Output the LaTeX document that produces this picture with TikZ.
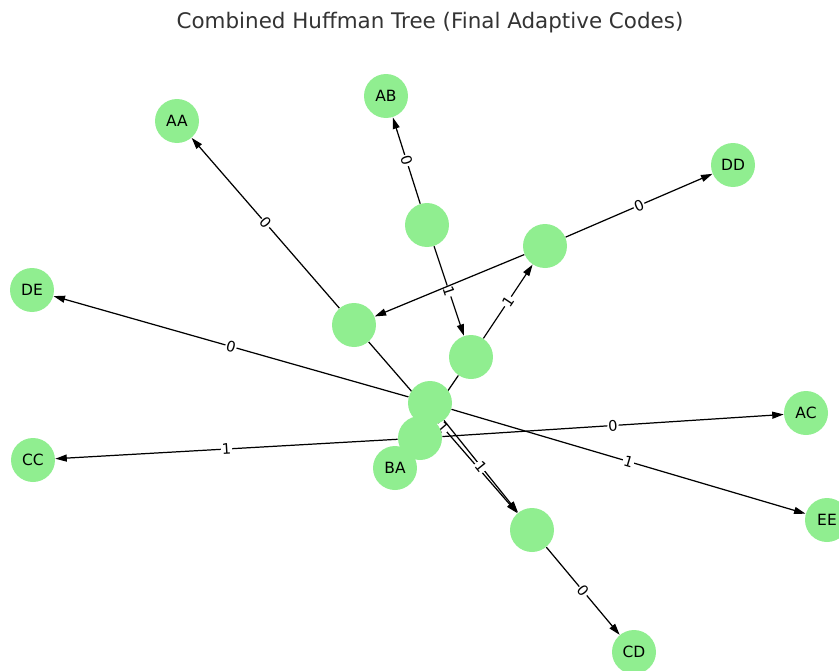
\documentclass[tikz,border=0pt]{standalone}
\usepackage{fontspec}
\setmainfont{DejaVu Sans}
\usetikzlibrary{arrows.meta,backgrounds}
\definecolor{leafgreen}{HTML}{90EE90}
\definecolor{titlegray}{HTML}{333333}
\tikzset{
  hnode/.style={circle,fill=leafgreen,minimum size=0.88cm,inner sep=0pt,font=\fontsize{8.8}{10}\selectfont},
  hedge/.style={-{Triangle[length=2.3mm,width=1.4mm]},line width=0.7pt},
  bit/.style={midway,sloped,fill=white,inner sep=0.6pt,font=\fontsize{8.3}{9}\selectfont}
}

\begin{document}
\begin{tikzpicture}[x=0.02cm,y=-0.02cm]
        \useasboundingbox (0,0) rectangle (839,670);
        \node[text=titlegray,font=\fontsize{12.2}{14}\selectfont] (title) at (430,23) {Combined Huffman Tree (Final Adaptive Codes)};
        % leaves
        \node[hnode] (AB) at (386,96) {AB};
        \node[hnode] (AA) at (177,121) {AA};
        \node[hnode] (DD) at (733,165) {DD};
        \node[hnode] (DE) at (32,290) {DE};
        \node[hnode] (AC) at (806,413) {AC};
        \node[hnode] (CC) at (33,460) {CC};
        \node[hnode] (BA) at (395,468) {BA};
        \node[hnode] (EE) at (827,520) {EE};
        \node[hnode] (CD) at (634,652) {CD};
        % internal nodes
        \node[hnode] (n1) at (427,225) {};
        \node[hnode] (n2) at (545,246) {};
        \node[hnode] (n3) at (354,325) {};
        \node[hnode] (n4) at (471,357) {};
        \node[hnode] (n5) at (430,403) {};
        \node[hnode] (n6) at (420,438) {};
        \node[hnode] (n7) at (532,530) {};
        \begin{scope}[on background layer]
          \draw[hedge] (n1) -- node[bit]{0} (AB);
          \draw[hedge] (n1) -- node[bit]{1} (n4);
          \draw[hedge] (n2) -- node[bit]{0} (DD);
          \draw[hedge] (n2) -- (n3);
          \draw[hedge] (n4) -- node[bit]{1} (n2);
          \draw[hedge] (n3) -- node[bit]{0} (AA);
          \draw[hedge] (n3) -- node[bit]{1} (n7);
          \draw[hedge] (n4) -- (BA);
          \draw[hedge] (n5) -- node[bit]{0} (DE);
          \draw[hedge] (n5) -- node[bit]{1} (EE);
          \draw[hedge] (n5) -- node[bit]{1} (n7);
          \draw[hedge] (n6) -- node[bit]{0} (AC);
          \draw[hedge] (n6) -- node[bit]{1} (CC);
          \draw[hedge] (n7) -- node[bit]{0} (CD);
        \end{scope}
      \end{tikzpicture}
\end{document}
